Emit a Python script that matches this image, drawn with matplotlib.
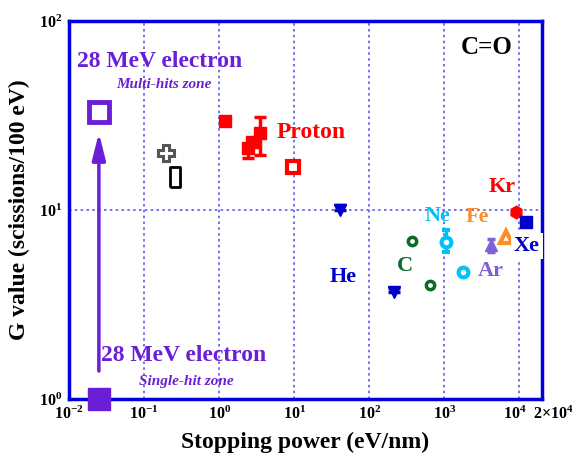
import matplotlib.pyplot as plt
from matplotlib.ticker import FixedLocator, FixedFormatter, NullLocator
from matplotlib.transforms import ScaledTranslation

plt.rcParams['font.family'] = 'Liberation Serif'
plt.rcParams['font.weight'] = 'bold'
plt.rcParams['mathtext.fontset'] = 'custom'
plt.rcParams['mathtext.rm'] = 'Liberation Serif:bold'
plt.rcParams['mathtext.bf'] = 'Liberation Serif:bold'
plt.rcParams['mathtext.it'] = 'Liberation Serif:italic:bold'

# stopping power (eV/nm) vs G value (scissions/100 eV)
elec_x = [0.025, 0.025]
elec_g = [33.0, 1.0]          # multi-hits zone, single-hit zone

gray_x, gray_g = [0.196], [20.0]
black_x, black_g = [0.259], [15.0]

proton_x = [1.2, 2.44, 2.75, 3.52]
proton_g = [29.6, 21.3, 22.9, 25.6]
proton_lo = [0.0, 2.4, 0.0, 6.1]
proton_hi = [0.0, 0.0, 0.0, 5.6]
proton_open_x, proton_open_g = [9.7], [16.9]

he_x, he_g = [41.0, 215.0], [10.0, 3.68]
c_x, c_g = [374.0, 651.0], [6.86, 4.01]
ne_x, ne_g = [1040.0, 1775.0], [6.75, 4.72]
ne_lo, ne_hi = [0.75, 0.0], [1.1, 0.0]
ar_x, ar_g = [4140.0], [6.53]
fe_x, fe_g = [6560.0], [7.17]
kr_x, kr_g = [8930.0], [9.8]
xe_x, xe_g = [12100.0], [8.6]

x_ticks = [1e-2, 1e-1, 1e0, 1e1, 1e2, 1e3, 1e4, 2e4]
x_labels = [r'$10^{-2}$', r'$10^{-1}$', r'$10^{0}$', r'$10^{1}$', r'$10^{2}$',
            r'$10^{3}$', r'$10^{4}$', r'$2{\times}10^{4}$']
y_ticks = [1, 10, 100]
y_labels = [r'$10^{0}$', r'$10^{1}$', r'$10^{2}$']

purple = '#6a1fd6'
blue = '#0000c8'
red = '#ff0000'
green = '#0b6b23'
cyan = '#00c3f5'
orange = '#ff8c25'
violet = '#8060d8'

fig = plt.figure(figsize=(5.72, 4.57), dpi=100)
ax = fig.add_axes([69 / 572, 58 / 457, 473 / 572, 378 / 457])
ax.set_xscale('log')
ax.set_yscale('log')
ax.set_xlim(1e-2, 2e4)
ax.set_ylim(1, 100)

# grid on decades only
for xv in x_ticks[1:-1]:
    ax.axvline(xv, color='#5a5af0', lw=1.2, ls=(0, (1.5, 2)), zorder=0)
ax.axhline(10, color='#5a5af0', lw=1.2, ls=(0, (1.5, 2)), zorder=0)

# electron
ax.plot(elec_x[0], elec_g[0], 's', ms=14, mfc='white', mec=purple, mew=3.5, zorder=5)
ax.plot(elec_x[1], elec_g[1], 's', ms=16, color=purple, clip_on=False, zorder=5)
ax.annotate('', xy=(elec_x[0], 26.5), xytext=(elec_x[0], 1.36),
            arrowprops=dict(arrowstyle='-|>,head_width=0.25,head_length=1.0',
                            color=purple, lw=2.5, mutation_scale=16))

ax.plot(gray_x, gray_g, 'P', ms=11, mfc='white', mec='#555555', mew=2.2)
rect = [(-0.5, -1), (0.5, -1), (0.5, 1), (-0.5, 1), (-0.5, -1)]
ax.plot(black_x, black_g, marker=rect, ls='none', ms=15, mfc='white', mec='black', mew=2)

# proton
ax.errorbar(proton_x, proton_g, yerr=[proton_lo, proton_hi], fmt='s', ms=9,
            color=red, ecolor=red, elinewidth=2.5, capsize=4, capthick=2.5)
ax.plot(proton_open_x, proton_open_g, 's', ms=8, mfc='white', mec=red, mew=3)

# heavy ions
ax.errorbar(he_x, he_g, yerr=[[0, 0], [0.6, 0.2]], fmt='v', ms=8, color=blue,
            elinewidth=2, capsize=4, capthick=2.5)
ax.plot(c_x, c_g, 'o', ms=6, mfc='white', mec=green, mew=2.5)
ax.errorbar(ne_x, ne_g, yerr=[ne_lo, ne_hi], xerr=[[0, 130], [0, 130]], fmt='o', ms=7,
            mfc='white', mec=cyan, mew=3, ecolor=cyan, elinewidth=2.5, capsize=3, capthick=2.5)
ax.errorbar(ar_x, ar_g, yerr=0.5, fmt='^', ms=9, color=violet, elinewidth=2.5,
            capsize=3, capthick=2.5)
ax.plot(fe_x, fe_g, '^', ms=8, mfc='white', mec=orange, mew=3)
ax.plot(kr_x, kr_g, 'h', ms=9, color=red)
ax.plot(xe_x, xe_g, 's', ms=8, color=blue)

# labels
tr = ax.transAxes
ax.text(0.017, 0.892, '28 MeV electron', transform=tr, color=purple, fontsize=17,
        ha='left', va='center')
ax.text(0.201, 0.833, 'Multi-hits zone', transform=tr, color=purple, fontsize=11,
        style='italic', ha='center', va='center')
ax.text(0.068, 0.114, '28 MeV electron', transform=tr, color=purple, fontsize=17,
        ha='left', va='center')
ax.text(0.249, 0.045, 'Single-hit zone', transform=tr, color=purple, fontsize=11,
        style='italic', ha='center', va='center')
ax.text(0.438, 0.704, 'Proton', transform=tr, color=red, fontsize=17, ha='left', va='center')
ax.text(0.579, 0.323, 'He', transform=tr, color=blue, fontsize=16, ha='center', va='center')
ax.text(0.710, 0.352, 'C', transform=tr, color=green, fontsize=16, ha='center', va='center')
ax.text(0.780, 0.484, 'Ne', transform=tr, color=cyan, fontsize=16, ha='center', va='center')
ax.text(0.863, 0.481, 'Fe', transform=tr, color=orange, fontsize=16, ha='center', va='center')
ax.text(0.915, 0.561, 'Kr', transform=tr, color=red, fontsize=16, ha='center', va='center')
ax.text(0.892, 0.339, 'Ar', transform=tr, color=violet, fontsize=16, ha='center', va='center')
ax.text(0.968, 0.405, 'Xe', transform=tr, color=blue, fontsize=16, ha='center', va='center',
        bbox=dict(facecolor='white', edgecolor='none', pad=2), zorder=6)
ax.text(0.884, 0.931, 'C=O', transform=tr, color='black', fontsize=18, ha='center', va='center')

for sp in ax.spines.values():
    sp.set_color('#0000dd')
    sp.set_linewidth(2.5)

ax.xaxis.set_major_locator(FixedLocator(x_ticks))
ax.xaxis.set_major_formatter(FixedFormatter(x_labels))
ax.xaxis.set_minor_locator(NullLocator())
ax.yaxis.set_major_locator(FixedLocator(y_ticks))
ax.yaxis.set_major_formatter(FixedFormatter(y_labels))
ax.yaxis.set_minor_locator(NullLocator())
ax.tick_params(length=0, labelsize=11.5, pad=5)

# nudge the end labels apart so 10^4 and 2x10^4 do not collide
xlabs = ax.get_xticklabels()
xlabs[-1].set_transform(xlabs[-1].get_transform()
                        + ScaledTranslation(8 / 72, 0, fig.dpi_scale_trans))
xlabs[-2].set_transform(xlabs[-2].get_transform()
                        + ScaledTranslation(-3 / 72, 0, fig.dpi_scale_trans))

ax.set_xlabel('Stopping power (eV/nm)', fontsize=17, fontweight='bold', labelpad=6)
ax.set_ylabel('G value (scissions/100 eV)', fontsize=17, fontweight='bold', labelpad=6)

fig.savefig('out.png', dpi=100)
